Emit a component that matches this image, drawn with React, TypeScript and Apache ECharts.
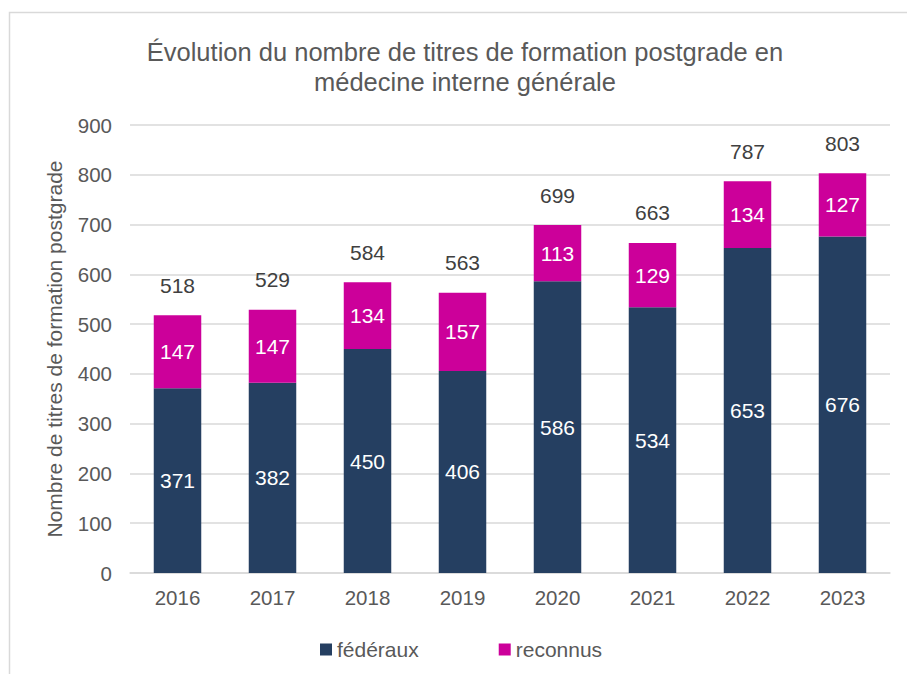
import React, { useEffect, useRef } from "react";
import * as echarts from "echarts";

const years = ["2016", "2017", "2018", "2019", "2020", "2021", "2022", "2023"];
const federaux = [371, 382, 450, 406, 586, 534, 653, 676];
const reconnus = [147, 147, 134, 157, 113, 129, 134, 127];
const totals = [518, 529, 584, 563, 699, 663, 787, 803];

const FONT = "'Liberation Sans', Arial, sans-serif";

export default function App() {
  const ref = useRef<HTMLDivElement>(null);
  useEffect(() => {
    if (!ref.current) return;
    const chart = echarts.init(ref.current, undefined, { renderer: "svg" });
    chart.setOption({
      animation: false,
      textStyle: { fontFamily: FONT },
      graphic: [
        {
          type: "rect",
          shape: { x: 9.5, y: 12.5, width: 940, height: 700 },
          style: { fill: "none", stroke: "#d9d9d9", lineWidth: 1.5 },
          silent: true,
        },
      ],
      title: {
        text: "Évolution du nombre de titres de formation postgrade en\nmédecine interne générale",
        left: 460,
        textAlign: "center",
        top: 32,
        textStyle: {
          fontFamily: FONT,
          fontSize: 25.5,
          fontWeight: "normal",
          color: "#595959",
          lineHeight: 30,
        },
      },
      legend: {
        data: ["fédéraux", "reconnus"],
        left: 315,
        top: 634,
        icon: "rect",
        itemWidth: 12,
        itemHeight: 12,
        itemGap: 80,
        textStyle: { fontFamily: FONT, fontSize: 21, color: "#595959" },
      },
      grid: { left: 130, right: 17, top: 125, bottom: 101, containLabel: false },
      xAxis: {
        type: "category",
        data: years,
        axisLine: { lineStyle: { color: "#d9d9d9", width: 1.5 } },
        axisTick: { show: false },
        axisLabel: { fontFamily: FONT, fontSize: 20.5, color: "#595959", margin: 14 },
      },
      yAxis: {
        type: "value",
        min: 0,
        max: 900,
        interval: 100,
        name: "Nombre de titres de formation postgrade",
        nameLocation: "middle",
        nameGap: 65,
        nameTextStyle: { fontFamily: FONT, fontSize: 21, color: "#595959" },
        axisLabel: { fontFamily: FONT, fontSize: 20.5, color: "#595959", margin: 18 },
        splitLine: { lineStyle: { color: "#d9d9d9", width: 1.5 } },
        axisLine: { show: false },
        axisTick: { show: false },
      },
      series: [
        {
          name: "fédéraux",
          type: "bar",
          stack: "total",
          barWidth: "50%",
          data: federaux,
          itemStyle: { color: "#253F61" },
          label: {
            show: true,
            position: "inside",
            color: "#ffffff",
            fontFamily: FONT,
            fontSize: 21,
          },
        },
        {
          name: "reconnus",
          type: "bar",
          stack: "total",
          data: reconnus,
          itemStyle: { color: "#CC009A" },
          label: {
            show: true,
            position: "inside",
            color: "#ffffff",
            fontFamily: FONT,
            fontSize: 21,
          },
        },
        {
          name: "total",
          type: "line",
          data: totals,
          symbol: "circle",
          symbolSize: 1,
          showSymbol: true,
          itemStyle: { color: "rgba(0,0,0,0)" },
          lineStyle: { opacity: 0 },
          silent: true,
          label: {
            show: true,
            position: "top",
            distance: 19,
            color: "#404040",
            fontFamily: FONT,
            fontSize: 21,
          },
        },
      ],
    });
    return () => chart.dispose();
  }, []);
  return (
    <div
      ref={ref}
      style={{ position: "fixed", left: 0, top: 0, width: 907, height: 674, background: "#fff" }}
    />
  );
}
